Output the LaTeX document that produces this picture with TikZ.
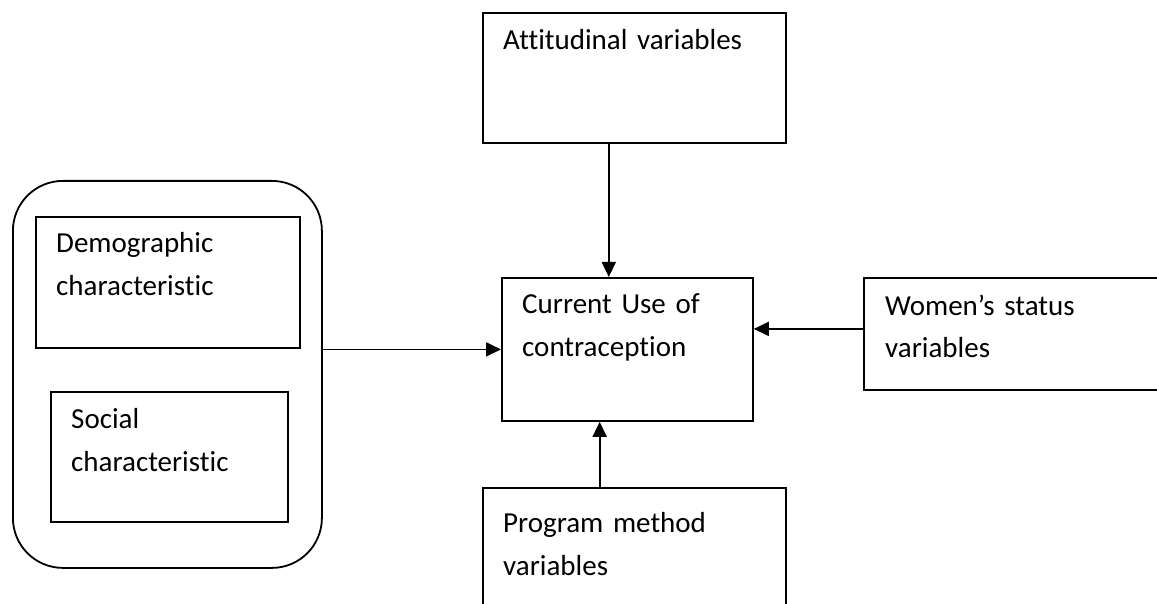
\documentclass[tikz,border=0pt]{standalone}
\usepackage{fontspec}
\setmainfont{Carlito}[Ligatures=CommonOff]
\usetikzlibrary{arrows.meta, calc, positioning}

\begin{document}
\begin{tikzpicture}[x=1pt, y=-1pt,
    box/.style={draw, line width=1.8pt, inner sep=0pt, anchor=north west},
    lbl/.style={anchor=base west, inner sep=0pt, text width=270pt, align=left,
        font=\fontsize{29}{43}\selectfont},
    arr/.style={line width=1.8pt, -{Triangle[length=15pt, width=14pt]}}]
    \clip (0, 0) rectangle (1157, 604);

    \node[box, rounded corners=50pt, minimum width=309pt, minimum height=387pt] (grp) at (12, 180) {};
    \node[box, minimum width=264pt, minimum height=131pt] (demo) at (35, 216) {};
    \node[box, minimum width=237pt, minimum height=130pt] (soc) at (50, 391) {};

    \node[box, minimum width=303pt, minimum height=130pt] (att) at (482, 12) {};
    \node[box, minimum width=251pt, minimum height=143pt] (use) at (501, 277) {};
    \node[box, minimum width=310pt, minimum height=112pt] (wom) at (863, 277) {};
    \node[box, minimum width=303pt, minimum height=140pt] (prog) at (482, 487) {};

    \node[lbl] (demoT) at ($(demo.north west) + (21, 37)$) {Demographic\\characteristic};
    \node[lbl] (socT) at ($(soc.north west) + (21, 37)$) {Social\\characteristic};
    \node[lbl] (attT) at ($(att.north west) + (21, 38)$) {Attitudinal variables};
    \node[lbl] (useT) at ($(use.north west) + (21, 36)$) {Current Use of\\contraception};
    \node[lbl] (womT) at ($(wom.north west) + (22, 38)$) {Women’s status\\variables};
    \node[lbl] (progT) at ($(prog.north west) + (21, 45)$) {Program method\\variables};

    \coordinate (attS) at ($(att.south west)!0.416!(att.south east)$);
    \coordinate (progN) at ($(prog.north west)!0.386!(prog.north east)$);
    \coordinate (womW) at ([yshift=5pt]wom.west);

    \draw[arr] (attS) -- (attS |- use.north);
    \draw[arr] (progN) -- (progN |- use.south);
    \draw[arr] (use.west -| grp.east) -- (use.west);
    \draw[arr] (womW) -- (womW -| use.east);
\end{tikzpicture}
\end{document}
